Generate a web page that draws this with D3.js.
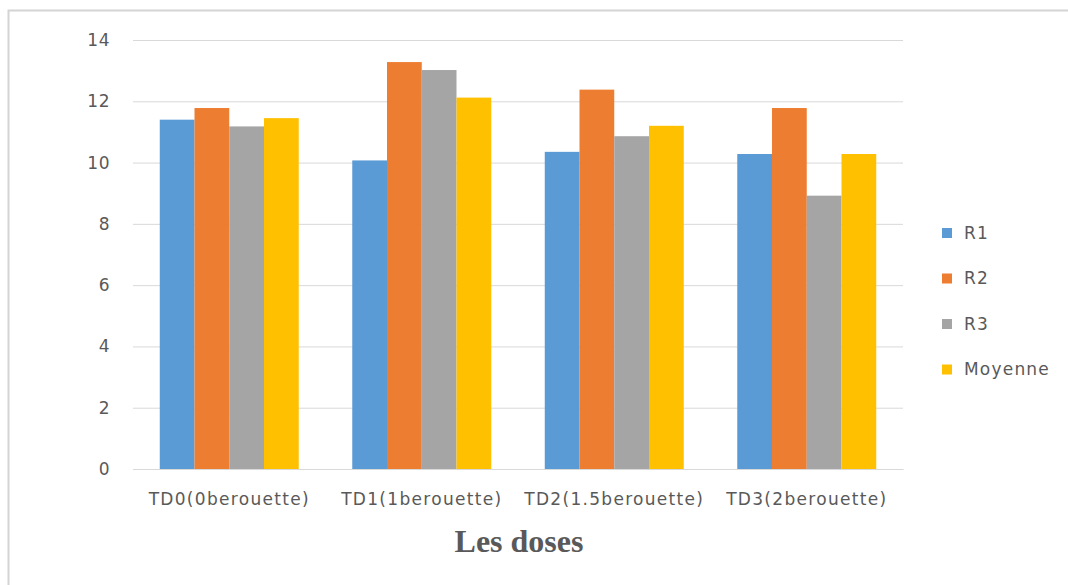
<!DOCTYPE html>
<html>
<head>
<meta charset="utf-8">
<script src="https://cdn.jsdelivr.net/npm/d3@7"></script>
<style>
  html, body { margin: 0; padding: 0; background: #ffffff; }
  svg { display: block; }
</style>
</head>
<body>
<svg id="chart" width="1068" height="585"></svg>
<script>
const categories = ["TD0(0berouette)", "TD1(1berouette)", "TD2(1.5berouette)", "TD3(2berouette)"];
const seriesNames = ["R1", "R2", "R3", "Moyenne"];
const R1 = [11.4, 10.07, 10.35, 10.28];
const R2 = [11.78, 13.28, 12.38, 11.78];
const R3 = [11.18, 13.02, 10.86, 8.92];
const Moyenne = [11.45, 12.12, 11.2, 10.28];
const yTicks = [0, 2, 4, 6, 8, 10, 12, 14];
const colors = ["#5B9BD5", "#ED7D31", "#A5A5A5", "#FFC000"];
const xTitle = "Les doses";

const seriesValues = [R1, R2, R3, Moyenne];
const rows = categories.map((c, i) => ({
  cat: c,
  vals: seriesNames.map((s, j) => ({ key: s, value: seriesValues[j][i] }))
}));

const svg = d3.select("#chart");
const font = "'DejaVu Sans', Verdana, sans-serif";
const textColor = "#595959";

// outer frame
svg.append("rect")
  .attr("x", 8.5).attr("y", 10.5)
  .attr("width", 1100).attr("height", 700)
  .attr("fill", "#ffffff")
  .attr("stroke", "#d4d4d4").attr("stroke-width", 2);

const plot = { left: 133, right: 903, top: 40, bottom: 469 };

const x0 = d3.scaleBand()
  .domain(categories)
  .range([plot.left, plot.right])
  .paddingInner(0.278)
  .paddingOuter(0.139);

const x1 = d3.scaleBand()
  .domain(seriesNames)
  .range([0, x0.bandwidth()])
  .padding(0);

const y = d3.scaleLinear().domain([0, 14]).range([plot.bottom, plot.top]);

// gridlines + y labels
const yAxis = d3.axisLeft(y)
  .tickValues(yTicks)
  .tickSize(-(plot.right - plot.left))
  .tickPadding(23)
  .tickFormat(d3.format("d"));

const gy = svg.append("g")
  .attr("transform", `translate(${plot.left},0)`)
  .call(yAxis);
gy.select(".domain").remove();
gy.selectAll(".tick line").attr("stroke", "#d9d9d9").attr("stroke-width", 1);
gy.selectAll(".tick text")
  .attr("fill", textColor)
  .style("font-family", font)
  .style("font-size", "17px")
  .style("letter-spacing", "0.5px");

// bars
const groups = svg.append("g").selectAll("g")
  .data(rows)
  .join("g")
  .attr("transform", d => `translate(${x0(d.cat)},0)`);

groups.selectAll("rect")
  .data(d => d.vals)
  .join("rect")
  .attr("x", d => x1(d.key))
  .attr("y", d => y(d.value))
  .attr("width", x1.bandwidth())
  .attr("height", d => y(0) - y(d.value))
  .attr("fill", (d, i) => colors[i]);

// x axis
const xAxis = d3.axisBottom(x0).tickSize(0).tickPadding(24);
const gx = svg.append("g")
  .attr("transform", `translate(0,${plot.bottom})`)
  .call(xAxis);
gx.select(".domain").attr("stroke", "#d9d9d9");
gx.selectAll(".tick text")
  .attr("fill", textColor)
  .style("font-family", font)
  .style("font-size", "17px")
  .style("letter-spacing", "1.3px");

// x title
svg.append("text")
  .attr("x", 519).attr("y", 552)
  .attr("text-anchor", "middle")
  .attr("fill", textColor)
  .style("font-family", "'Liberation Serif', 'Times New Roman', serif")
  .style("font-weight", "bold")
  .style("font-size", "32px")
  .text(xTitle);

// legend
const legend = svg.append("g").selectAll("g")
  .data(seriesNames)
  .join("g")
  .attr("transform", (d, i) => `translate(942,${233 + i * 45.5})`);
legend.append("rect")
  .attr("x", 0).attr("y", -5)
  .attr("width", 10).attr("height", 10)
  .attr("fill", (d, i) => colors[i]);
legend.append("text")
  .attr("x", 22).attr("y", 0)
  .attr("dy", "0.35em")
  .attr("fill", textColor)
  .style("font-family", font)
  .style("font-size", "17px")
  .style("letter-spacing", "1.2px")
  .text(d => d);
</script>
</body>
</html>
